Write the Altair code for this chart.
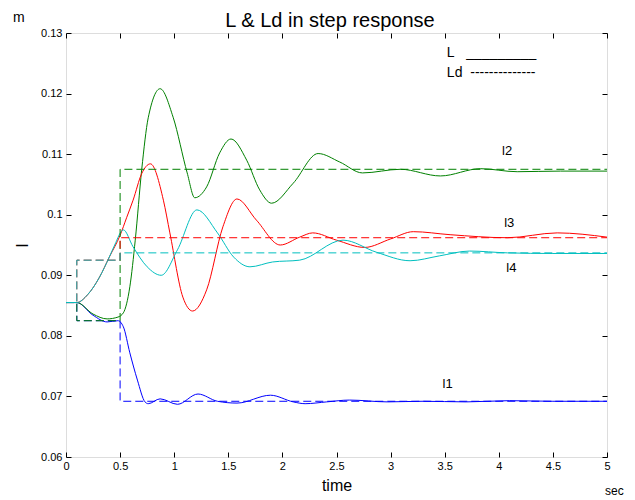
import altair as alt
import pandas as pd

FONT = "Liberation Sans"
SERIES = ["l1", "l2", "l3", "l4"]
COLORS = ["#0000ff", "#008000", "#ff0000", "#00bfbf"]
TITLE = "L & Ld in step response"

# L responses (solid lines)
T_L1 = [0, 0.1, 0.25, 0.38, 0.48, 0.53, 0.59, 0.66, 0.73, 0.76, 0.87, 1.03, 1.22, 1.40,
        1.58, 1.89, 2.10, 2.21, 2.41, 2.62, 2.97, 3.3, 3.7, 4.1, 4.5, 5.0]
V_L1 = [0.0855, 0.0855, 0.0834, 0.0823, 0.0825, 0.0815, 0.0772, 0.0727, 0.0691, 0.0688,
        0.0696, 0.0687, 0.0704, 0.0692, 0.0689, 0.0702, 0.0691, 0.0688, 0.0691, 0.0694,
        0.0691, 0.0692, 0.0691, 0.0693, 0.0692, 0.0692]

T_L2 = [0, 0.1, 0.25, 0.38, 0.48, 0.53, 0.59, 0.64, 0.70, 0.76, 0.87, 0.99, 1.12, 1.19,
        1.30, 1.42, 1.525, 1.67, 1.79, 1.90, 2.10, 2.33, 2.53, 2.74, 3.09, 3.46, 3.83,
        4.17, 4.57, 5.0]
V_L2 = [0.0855, 0.0855, 0.0836, 0.0828, 0.0831, 0.0838, 0.0881, 0.0958, 0.1075, 0.1160,
        0.1208, 0.1161, 0.1069, 0.1028, 0.1046, 0.1102, 0.1125, 0.1090, 0.1041, 0.1019,
        0.1052, 0.1101, 0.1087, 0.1069, 0.1075, 0.1064, 0.1076, 0.1071, 0.1072, 0.1072]

T_L3 = [0, 0.1, 0.2, 0.31, 0.40, 0.50, 0.56, 0.62, 0.70, 0.78, 0.90, 0.96, 1.08, 1.17,
        1.30, 1.45, 1.58, 1.76, 1.98, 2.16, 2.28, 2.50, 2.76, 3.0, 3.21, 3.55, 4.08,
        4.54, 5.0]
V_L3 = [0.0855, 0.0855, 0.0868, 0.0897, 0.0930, 0.0966, 0.0995, 0.1024, 0.1068, 0.1084,
        0.1024, 0.0970, 0.0864, 0.0841, 0.0876, 0.0980, 0.1026, 0.0991, 0.0950, 0.0963,
        0.0970, 0.0958, 0.0946, 0.0960, 0.0972, 0.0967, 0.0962, 0.0970, 0.0963]

T_L4 = [0, 0.1, 0.2, 0.31, 0.40, 0.45, 0.53, 0.62, 0.75, 0.88, 1.03, 1.21, 1.40, 1.55,
        1.70, 1.91, 2.16, 2.56, 2.87, 3.18, 3.45, 3.73, 4.08, 4.5, 5.0]
V_L4 = [0.0855, 0.0855, 0.0868, 0.0897, 0.0930, 0.0950, 0.0975, 0.0947, 0.0914, 0.0900,
        0.0942, 0.1008, 0.0970, 0.0930, 0.0914, 0.0922, 0.0925, 0.0958, 0.0938, 0.0924,
        0.0932, 0.0940, 0.0937, 0.0936, 0.0936]

# Ld references (dashed step lines)
T_LD = [0, 0.1, 0.5, 5.0]
V_LD1 = [0.0855, 0.0825, 0.0692, 0.0692]
V_LD2 = [0.0855, 0.0825, 0.1075, 0.1075]
V_LD3 = [0.0855, 0.0925, 0.0962, 0.0962]
V_LD4 = [0.0855, 0.0925, 0.0937, 0.0937]

XTICKS = [0, 0.5, 1, 1.5, 2, 2.5, 3, 3.5, 4, 4.5, 5]
YTICKS = [0.06, 0.07, 0.08, 0.09, 0.10, 0.11, 0.12, 0.13]

LABEL_T = [3.48, 4.03, 4.05, 4.07]
LABEL_V = [0.0714, 0.1099, 0.0980, 0.0905]

NB = "\u00a0"
LEGEND_TEXT = ["L" + NB * 3 + "_" * 9, "Ld" + NB * 2 + "-" * 14]
LEGEND_T = [3.52, 3.52]
LEGEND_V = [0.1261, 0.1228]


def frame(ts_list, vs_list):
    rows = []
    for name, ts, vs in zip(SERIES, ts_list, vs_list):
        for t, v in zip(ts, vs):
            rows.append({"series": name, "t": t, "v": v})
    return pd.DataFrame(rows)


df_l = frame([T_L1, T_L2, T_L3, T_L4], [V_L1, V_L2, V_L3, V_L4])
df_ld = frame([T_LD] * 4, [V_LD1, V_LD2, V_LD3, V_LD4])
df_lab = pd.DataFrame({"name": SERIES, "t": LABEL_T, "v": LABEL_V})
df_leg = pd.DataFrame({"name": LEGEND_TEXT, "t": LEGEND_T, "v": LEGEND_V})

xs = alt.Scale(domain=[0, 5], nice=False, zero=False)
ys = alt.Scale(domain=[0.06, 0.13], nice=False, zero=False)
cs = alt.Scale(domain=SERIES, range=COLORS)

common = dict(tickColor="black", tickSize=5, offset=-5, domain=False, grid=False,
              labelFont=FONT, labelFontSize=11, labelColor="black", labelFlush=False,
              labelOverlap=False, titleFont=FONT, titleFontWeight="normal", titleColor="black")
ticks_only = {k: v for k, v in common.items() if not k.startswith("label")}

x_bottom = alt.Axis(orient="bottom", values=XTICKS, format="~g", labelPadding=3,
                    title="time", titleFontSize=16, titlePadding=6, **common)
y_left = alt.Axis(orient="left", values=YTICKS, format="~g", labelPadding=4,
                  title="l", titleFontSize=16, titlePadding=10, **common)
x_top = alt.Axis(orient="top", values=XTICKS, labels=False, title=None, **ticks_only)
y_right = alt.Axis(orient="right", values=YTICKS, labels=False, title=None, **ticks_only)

solid = alt.Chart(df_l).mark_line(strokeWidth=1, interpolate="monotone").encode(
    x=alt.X("t:Q", scale=xs, axis=x_bottom),
    y=alt.Y("v:Q", scale=ys, axis=y_left),
    color=alt.Color("series:N", scale=cs, legend=None),
    detail="series:N",
)

dashed = alt.Chart(df_ld).mark_line(strokeWidth=1, strokeDash=[8, 4], interpolate="step-after").encode(
    x=alt.X("t:Q", scale=xs, axis=x_top),
    y=alt.Y("v:Q", scale=ys, axis=y_right),
    color=alt.Color("series:N", scale=cs, legend=None),
    detail="series:N",
)

labels = alt.Chart(df_lab).mark_text(align="left", baseline="alphabetic", font=FONT,
                                     fontSize=13, color="black").encode(
    x=alt.X("t:Q", scale=xs, axis=None),
    y=alt.Y("v:Q", scale=ys, axis=None),
    text="name:N",
)

legend_txt = alt.Chart(df_leg).mark_text(align="left", baseline="alphabetic", font=FONT,
                                         fontSize=14, color="black").encode(
    x=alt.X("t:Q", scale=xs, axis=None),
    y=alt.Y("v:Q", scale=ys, axis=None),
    text="name:N",
)

title_txt = alt.Chart(pd.DataFrame({"u": [TITLE]})).mark_text(
    align="center", baseline="alphabetic", font=FONT, fontSize=20, color="black").encode(
    x=alt.value(264), y=alt.value(-6.5), text="u:N")

unit_m = alt.Chart(pd.DataFrame({"u": ["m"]})).mark_text(
    align="left", baseline="alphabetic", font=FONT, fontSize=14, color="black").encode(
    x=alt.value(-53), y=alt.value(-11), text="u:N")

unit_sec = alt.Chart(pd.DataFrame({"u": ["sec"]})).mark_text(
    align="left", baseline="alphabetic", font=FONT, fontSize=12, color="black").encode(
    x=alt.value(539), y=alt.value(462), text="u:N")

chart = alt.layer(solid, dashed, labels, legend_txt, title_txt, unit_m, unit_sec).resolve_axis(
    x="independent", y="independent"
).properties(
    width=541,
    height=424,
    padding={"left": 58, "top": 25, "right": 20, "bottom": 40},
    autosize=alt.AutoSizeParams(type="none"),
).configure_view(stroke="black", strokeWidth=1).configure(background="white")

chart.save("out.html", embed_options={"renderer": "svg", "actions": False})
